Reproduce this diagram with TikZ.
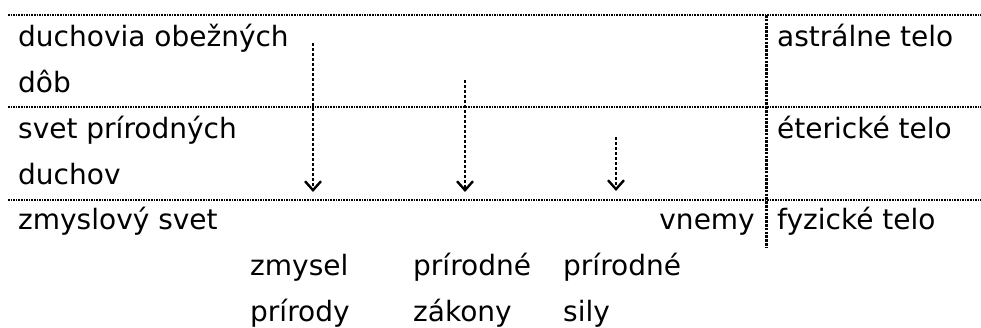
\documentclass[tikz,border=0pt]{standalone}
\usepackage{fontspec}
\setmainfont{DejaVu Sans}
\usetikzlibrary{arrows.meta}
\begin{document}
\begin{tikzpicture}[x=1pt,y=-1pt,
  lbl/.style={anchor=base west,inner sep=0pt,font=\fontsize{28}{32}\selectfont},
  rlbl/.style={anchor=base east,inner sep=0pt,font=\fontsize{28}{32}\selectfont},
  hline/.style={line width=1.6pt,dash pattern=on 1.6pt off 1pt},
  vline/.style={line width=3pt,dash pattern=on 2.6pt off 1.2pt},
  flow/.style={line width=2.7pt,dash pattern=on 3pt off 2pt,-{Straight Barb[length=9pt,width=16pt,line width=2.4pt]}}]
\useasboundingbox (0,0) rectangle (981,327);
% grid coordinates
\coordinate (h1a) at (8,15);   \coordinate (h1b) at (981,15);
\coordinate (h2a) at (8,107);  \coordinate (h2b) at (981,107);
\coordinate (h3a) at (8,200);  \coordinate (h3b) at (981,200);
\coordinate (va) at (766,15);  \coordinate (vb) at (766,247);
\draw[hline] (h1a) -- (h1b);
\draw[hline] (h2a) -- (h2b);
\draw[hline] (h3a) -- (h3b);
\draw[vline] (va) -- (vb);
% left labels
\node[lbl] (l1) at (18,46) {duchovia obežných};
\node[lbl] (l2) at (18,92) {dôb};
\node[lbl] (l3) at (18,138) {svet prírodných};
\node[lbl] (l4) at (18,184) {duchov};
\node[lbl] (l5) at (18,229) {zmyslový svet};
% right labels
\node[lbl] (r1) at (777,46) {astrálne telo};
\node[lbl] (r2) at (777,138) {éterické telo};
\node[lbl] (r3) at (777,229) {fyzické telo};
\node[rlbl] (vn) at (755,229) {vnemy};
% bottom labels
\node[lbl] (b1) at (250,275) {zmysel};
\node[lbl] (b2) at (250,321) {prírody};
\node[lbl] (c1) at (413,275) {prírodné};
\node[lbl] (c2) at (413,321) {zákony};
\node[lbl] (d1) at (563,275) {prírodné};
\node[lbl] (d2) at (563,321) {sily};
% arrows
\coordinate (a1s) at (313,43);  \coordinate (a1e) at (313,192);
\coordinate (a2s) at (465,80);  \coordinate (a2e) at (465,192);
\coordinate (a3s) at (616,137); \coordinate (a3e) at (616,191);
\draw[flow] (a1s) -- (a1e);
\draw[flow] (a2s) -- (a2e);
\draw[flow] (a3s) -- (a3e);
\end{tikzpicture}
\end{document}
